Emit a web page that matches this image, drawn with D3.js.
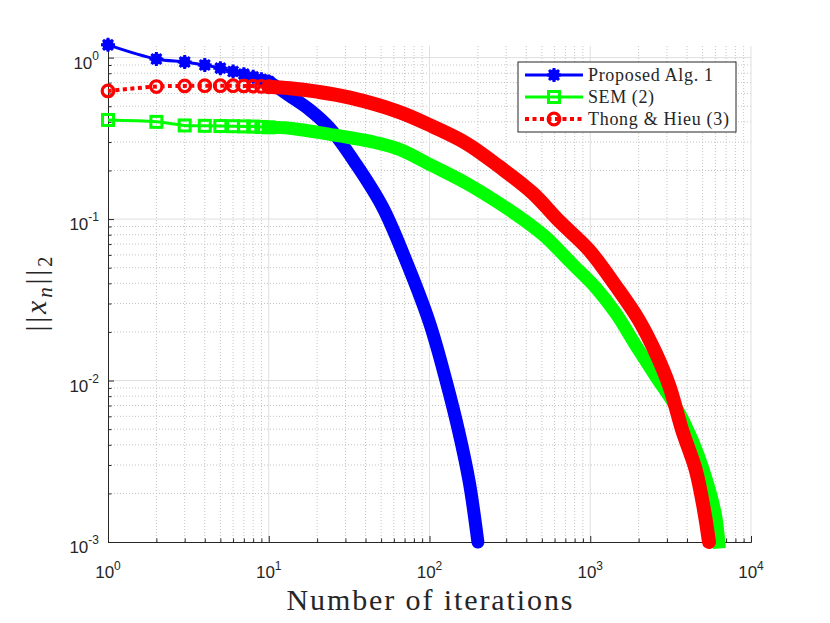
<!DOCTYPE html>
<html>
<head>
<meta charset="utf-8">
<script src="https://cdn.jsdelivr.net/npm/d3@7"></script>
<style>
  body { margin: 0; background: #fff; }
  svg { display: block; }
  .tick-label { font-family: "Liberation Sans", Arial, Helvetica, sans-serif; font-size: 17px; fill: #262626; }
  .tex { font-family: "Liberation Serif", "Times New Roman", serif; fill: #262626; }
</style>
</head>
<body>
<div id="chart"></div>
<script>
// values (iteration n, ||x_n||_2)
const ITER_ALG1 = [1, 2, 3, 4, 5, 6, 7, 8, 9, 10, 13.5, 18, 24, 35, 51, 70, 100, 127, 153, 177, 200];
const NORM_ALG1 = [1.2, 0.98, 0.94, 0.90, 0.86, 0.82, 0.79, 0.76, 0.735, 0.71, 0.58, 0.475, 0.365, 0.218, 0.119, 0.058, 0.0228, 0.0099, 0.0047, 0.00233, 0.001];

const ITER_SEM = [1, 2, 3, 4, 5, 6, 7, 8, 9, 10, 13.5, 24, 46, 65, 105, 169, 272, 438, 531, 776, 1085, 1442, 1922, 2557, 3400, 4300, 5200, 5990, 6300];
const NORM_SEM = [0.411, 0.40, 0.38, 0.378, 0.377, 0.376, 0.375, 0.374, 0.372, 0.37, 0.365, 0.335, 0.298, 0.27, 0.213, 0.167, 0.125, 0.09, 0.077, 0.0525, 0.0375, 0.0261, 0.0165, 0.0106, 0.0069, 0.0043, 0.00255, 0.0015, 0.001];

const ITER_TH = [1, 2, 3, 4, 5, 6, 7, 8, 9, 10, 13.5, 20, 32, 65, 105, 169, 272, 438, 642, 986, 1442, 2000, 2557, 3110, 3725, 4532, 5102, 5480];
const NORM_TH = [0.622, 0.662, 0.668, 0.67, 0.67, 0.67, 0.668, 0.666, 0.663, 0.66, 0.646, 0.615, 0.565, 0.46, 0.374, 0.295, 0.211, 0.145, 0.097, 0.064, 0.0385, 0.0238, 0.0148, 0.0092, 0.00495, 0.0028, 0.00158, 0.001];

const SERIES_NAMES = ["Proposed Alg. 1", "SEM (2)", "Thong & Hieu (3)"];

const X_TICKS = [1, 10, 100, 1000, 10000];
const X_TICK_EXP = ["0", "1", "2", "3", "4"];
const Y_TICKS = [1e-3, 1e-2, 1e-1, 1];
const Y_TICK_EXP = ["-3", "-2", "-1", "0"];

const W = 830, H = 623;
const plot = { left: 108, right: 751, top: 46, bottom: 542 };
const BAND_FROM = 10; // markers at every iteration merge into a band from here on

const x = d3.scaleLog().domain([1, 1e4]).range([plot.left, plot.right]);
const y = d3.scaleLog().domain([1e-3, 1.18]).range([plot.bottom, plot.top]);

const series = [
  { name: SERIES_NAMES[0], n: ITER_ALG1, v: NORM_ALG1, color: "#0000ff", lw: 3, dash: null, band: 13, cap: "round", marker: "star" },
  { name: SERIES_NAMES[1], n: ITER_SEM, v: NORM_SEM, color: "#00ff00", lw: 3, dash: null, band: 13, cap: "square", marker: "square" },
  { name: SERIES_NAMES[2], n: ITER_TH, v: NORM_TH, color: "#ff0000", lw: 4, dash: "4 3.5", band: 14, cap: "round", marker: "circle" }
].map(s => ({ ...s, points: s.n.map((n, i) => ({ n, v: s.v[i] })) }));

const svg = d3.select("#chart").append("svg")
  .attr("width", W)
  .attr("height", H)
  .attr("viewBox", `0 0 ${W} ${H}`);

// =========================
// GRID
// =========================

const minorOf = decades => decades.slice(0, -1).flatMap(d => d3.range(2, 10).map(k => k * d));
const xMinor = minorOf(X_TICKS);
const yMinor = minorOf(Y_TICKS).filter(v => v <= y.domain()[1]);

const grid = svg.append("g");

grid.selectAll(".xminor").data(xMinor).join("line")
  .attr("x1", d => x(d)).attr("x2", d => x(d))
  .attr("y1", plot.top).attr("y2", plot.bottom)
  .attr("stroke", "#c4c4c4").attr("stroke-width", 1).attr("stroke-dasharray", "1 2");

grid.selectAll(".yminor").data(yMinor).join("line")
  .attr("x1", plot.left).attr("x2", plot.right)
  .attr("y1", d => y(d)).attr("y2", d => y(d))
  .attr("stroke", "#c4c4c4").attr("stroke-width", 1).attr("stroke-dasharray", "1 2");

grid.selectAll(".xmajor").data(X_TICKS.slice(1)).join("line")
  .attr("x1", d => x(d)).attr("x2", d => x(d))
  .attr("y1", plot.top).attr("y2", plot.bottom)
  .attr("stroke", "#dfdfdf").attr("stroke-width", 1);

grid.selectAll(".ymajor").data(Y_TICKS.slice(1)).join("line")
  .attr("x1", plot.left).attr("x2", plot.right)
  .attr("y1", d => y(d)).attr("y2", d => y(d))
  .attr("stroke", "#dfdfdf").attr("stroke-width", 1);

// =========================
// AXES (ticks inward, box off)
// =========================

function styleAxis(g) {
  g.select(".domain").attr("stroke", "#262626");
  g.selectAll(".tick line").attr("stroke", "#262626");
  g.selectAll(".tick text").remove();
}

svg.append("g")
  .attr("transform", `translate(0,${plot.bottom})`)
  .call(d3.axisBottom(x).tickValues(xMinor).tickSize(-3.5).tickSizeOuter(0).tickFormat(""))
  .call(styleAxis);

svg.append("g")
  .attr("transform", `translate(0,${plot.bottom})`)
  .call(d3.axisBottom(x).tickValues(X_TICKS).tickSize(-6).tickSizeOuter(0).tickFormat(""))
  .call(styleAxis);

svg.append("g")
  .attr("transform", `translate(${plot.left},0)`)
  .call(d3.axisLeft(y).tickValues(yMinor).tickSize(-3.5).tickSizeOuter(0).tickFormat(""))
  .call(styleAxis);

svg.append("g")
  .attr("transform", `translate(${plot.left},0)`)
  .call(d3.axisLeft(y).tickValues(Y_TICKS).tickSize(-6).tickSizeOuter(0).tickFormat(""))
  .call(styleAxis);

X_TICKS.forEach((t, i) => {
  const lab = svg.append("text")
    .attr("class", "tick-label")
    .attr("x", x(t))
    .attr("y", plot.bottom + 36)
    .attr("text-anchor", "middle");
  lab.append("tspan").text("10");
  lab.append("tspan").attr("dy", -8).attr("font-size", "12px").text(X_TICK_EXP[i]);
});

Y_TICKS.forEach((t, i) => {
  const lab = svg.append("text")
    .attr("class", "tick-label")
    .attr("x", plot.left - 9)
    .attr("y", y(t) + 11)
    .attr("text-anchor", "end");
  lab.append("tspan").text("10");
  lab.append("tspan").attr("dy", -9).attr("font-size", "12px").text(Y_TICK_EXP[i]);
});

// axis titles
svg.append("text")
  .attr("class", "tex")
  .attr("x", (plot.left + plot.right) / 2)
  .attr("y", 610)
  .attr("text-anchor", "middle")
  .attr("font-size", "30px")
  .attr("textLength", 286)
  .attr("lengthAdjust", "spacing")
  .text("Number of iterations");

const yTitle = svg.append("text")
  .attr("class", "tex")
  .attr("transform", `translate(46,${(plot.top + plot.bottom) / 2}) rotate(-90)`)
  .attr("text-anchor", "middle")
  .attr("font-size", "30px")
  .attr("textLength", 75)
  .attr("lengthAdjust", "spacing");
yTitle.append("tspan").text("||");
yTitle.append("tspan").attr("font-style", "italic").text("x");
yTitle.append("tspan").attr("font-style", "italic").attr("font-size", "21px").attr("dy", 6).text("n");
yTitle.append("tspan").attr("dy", -6).text("||");
yTitle.append("tspan").attr("font-size", "21px").attr("dy", 6).text("2");

// =========================
// SERIES
// =========================

const line = d3.line()
  .x(d => x(d.n))
  .y(d => y(d.v))
  .curve(d3.curveCatmullRom.alpha(0.5));

function drawMarker(g, type, color, cx, cy) {
  if (type === "star") {
    g.append("circle").attr("cx", cx).attr("cy", cy).attr("r", 5.8).attr("fill", color);
    g.append("path")
      .attr("d", `M${cx - 7},${cy}H${cx + 7}M${cx},${cy - 7}V${cy + 7}` +
        `M${cx - 5},${cy - 5}L${cx + 5},${cy + 5}M${cx - 5},${cy + 5}L${cx + 5},${cy - 5}`)
      .attr("stroke", color).attr("stroke-width", 3).attr("fill", "none");
  } else if (type === "square") {
    g.append("rect")
      .attr("x", cx - 5.5).attr("y", cy - 5.5)
      .attr("width", 11).attr("height", 11)
      .attr("fill", "none").attr("stroke", color).attr("stroke-width", 3);
  } else {
    g.append("circle")
      .attr("cx", cx).attr("cy", cy).attr("r", 5.8)
      .attr("fill", "none").attr("stroke", color).attr("stroke-width", 3.2);
  }
}

const seriesG = svg.append("g");

series.forEach(s => {
  const g = seriesG.append("g");

  g.append("path")
    .datum(s.points)
    .attr("d", line)
    .attr("fill", "none")
    .attr("stroke", s.color)
    .attr("stroke-width", s.lw)
    .attr("stroke-dasharray", s.dash);

  g.append("path")
    .datum(s.points.filter(p => p.n >= BAND_FROM))
    .attr("d", line)
    .attr("fill", "none")
    .attr("stroke", s.color)
    .attr("stroke-width", s.band)
    .attr("stroke-linecap", s.cap)
    .attr("stroke-linejoin", "round");

  s.points.filter(p => p.n <= BAND_FROM)
    .forEach(p => drawMarker(g, s.marker, s.color, x(p.n), y(p.v)));
});

// =========================
// LEGEND
// =========================

const leg = { x: 518, y: 62, w: 218, h: 70 };
const legG = svg.append("g");
const legTextLen = [125, 66, 141];

legG.append("rect")
  .attr("x", leg.x).attr("y", leg.y)
  .attr("width", leg.w).attr("height", leg.h)
  .attr("fill", "#fff")
  .attr("stroke", "#262626")
  .attr("stroke-width", 1);

series.forEach((s, i) => {
  const ry = leg.y + 13 + i * 22;

  legG.append("line")
    .attr("x1", leg.x + 7).attr("x2", leg.x + 65)
    .attr("y1", ry).attr("y2", ry)
    .attr("stroke", s.color)
    .attr("stroke-width", s.lw)
    .attr("stroke-dasharray", s.dash);

  drawMarker(legG, s.marker, s.color, leg.x + 36, ry);

  legG.append("text")
    .attr("class", "tex")
    .attr("x", leg.x + 70)
    .attr("y", ry + 6)
    .attr("font-size", "18px")
    .attr("fill", "#000")
    .attr("textLength", legTextLen[i])
    .attr("lengthAdjust", "spacing")
    .text(s.name);
});
</script>
</body>
</html>
